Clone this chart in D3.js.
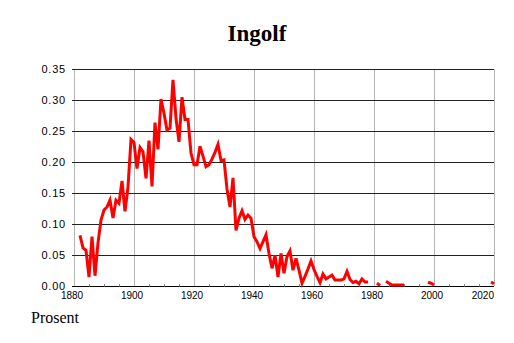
<!DOCTYPE html>
<html>
<head>
<meta charset="utf-8">
<script src="https://cdn.jsdelivr.net/npm/d3@7.9.0/dist/d3.min.js"></script>
<style>
  body { margin: 0; background: #fff; }
  svg { display: block; }
</style>
</head>
<body>
<div id="chart"></div>
<script>
// share of people named Ingolf per year, null = no value that year
const firstYear = 1882;
const lastYear = 2020;
const values = [
  0.082, 0.062, 0.058, 0.015, 0.080, 0.017, 0.070, 0.107, 0.123, 0.128, // 1882-1891
  0.139, 0.110, 0.139, 0.134, 0.170, 0.121, 0.160, 0.237, 0.232, 0.190, // 1892-1901
  0.224, 0.217, 0.174, 0.235, 0.161, 0.264, 0.221, 0.302, 0.279, 0.252, // 1902-1911
  0.255, 0.333, 0.271, 0.233, 0.305, 0.269, 0.269, 0.215, 0.196, 0.196, // 1912-1921
  0.226, 0.210, 0.193, 0.196, 0.205, 0.216, 0.229, 0.203, 0.204, 0.157, // 1922-1931
  0.128, 0.175, 0.090, 0.110, 0.122, 0.108, 0.115, 0.110, 0.080, 0.072, // 1932-1941
  0.061, 0.072, 0.083, 0.053, 0.029, 0.050, 0.015, 0.053, 0.021, 0.048, // 1942-1951
  0.057, 0.026, 0.045, 0.026, 0.005, 0.016, 0.028, 0.041, 0.027, 0.016, // 1952-1961
  0.006, 0.020, 0.012, 0.015, 0.018, 0.010, 0.010, 0.010, 0.012, 0.024, // 1962-1971
  0.011, 0.006, 0.008, 0.004, 0.012, 0.007, 0.007, null, null, 0.005,   // 1972-1981
  0.001, null, 0.008, 0.005, 0.002, 0.002, 0.002, 0.002, 0.002, null,   // 1982-1991
  null, null, null, null, null, null, 0.0065, 0.005, 0.002, null,       // 1992-2001
  null, null, null, null, null, null, null, null, null, null,           // 2002-2011
  null, null, null, null, null, null, null, 0.007, 0.004                // 2012-2020
];
const years = d3.range(firstYear, lastYear + 1);
const data = years.map((year, i) => ({ year, value: values[i] }));

const xTicks = [1880, 1900, 1920, 1940, 1960, 1980, 2000, 2020];
const yTicks = [0, 0.05, 0.10, 0.15, 0.20, 0.25, 0.30, 0.35];

const width = 514;
const height = 343;

const svg = d3.select('#chart')
  .append('svg')
  .attr('width', width)
  .attr('height', height);

const xScale = d3.scaleLinear().domain([1880, 2020]).range([74, 494]);
const yScale = d3.scaleLinear().domain([0, 0.35]).range([286.3, 69.3]);

const left = 72;
const right = 494;

// vertical gridlines (grey)
svg.append('g')
  .selectAll('line')
  .data(xTicks)
  .join('line')
  .attr('x1', (d) => Math.round(xScale(d)) + 0.5)
  .attr('x2', (d) => Math.round(xScale(d)) + 0.5)
  .attr('y1', yScale(0.35))
  .attr('y2', yScale(0))
  .attr('stroke', '#b4b4b4')
  .attr('stroke-width', 1);

// horizontal gridlines (black)
svg.append('g')
  .selectAll('line')
  .data(yTicks)
  .join('line')
  .attr('x1', left)
  .attr('x2', right)
  .attr('y1', (d) => Math.round(yScale(d)) + 0.5)
  .attr('y2', (d) => Math.round(yScale(d)) + 0.5)
  .attr('stroke', (d) => (d === 0 ? '#000' : '#222'))
  .attr('stroke-width', 1);

// minor ticks every 5 years
const minor = d3.range(1885, 2020, 5).filter((d) => d % 20 !== 0);
svg.append('g')
  .selectAll('line')
  .data(minor)
  .join('line')
  .attr('x1', (d) => Math.round(xScale(d)) + 0.5)
  .attr('x2', (d) => Math.round(xScale(d)) + 0.5)
  .attr('y1', Math.round(yScale(0)) - 2)
  .attr('y2', Math.round(yScale(0)) + 0.5)
  .attr('stroke', '#888');

// y labels
svg.append('g')
  .selectAll('text')
  .data(yTicks)
  .join('text')
  .attr('x', 66)
  .attr('y', (d) => yScale(d) + 4)
  .attr('text-anchor', 'end')
  .style('font-family', '"Liberation Sans", Arial, sans-serif')
  .style('font-size', '11px')
  .style('letter-spacing', '0.8px')
  .attr('fill', '#000')
  .text((d) => d3.format('.2f')(d));

// x labels
svg.append('g')
  .selectAll('text')
  .data(xTicks)
  .join('text')
  .attr('x', (d) => (d === 2020 ? 494 : xScale(d) - 2))
  .attr('y', 298.5)
  .attr('text-anchor', (d) => (d === 2020 ? 'end' : 'middle'))
  .style('font-family', '"Liberation Sans", Arial, sans-serif')
  .style('font-size', '10px')
  .attr('fill', '#000')
  .text((d) => d);

// the series
const line = d3.line()
  .defined((d) => d.value !== null)
  .x((d) => xScale(d.year))
  .y((d) => yScale(d.value));

svg.append('path')
  .datum(data)
  .attr('d', line)
  .attr('fill', 'none')
  .attr('stroke', '#ff0000')
  .attr('stroke-width', 3);

// title and unit
svg.append('text')
  .attr('x', 257)
  .attr('y', 40.5)
  .attr('text-anchor', 'middle')
  .style('font-family', '"Liberation Serif", "Times New Roman", serif')
  .style('font-size', '23px')
  .style('font-weight', 'bold')
  .text('Ingolf');

svg.append('text')
  .attr('x', 31)
  .attr('y', 322.5)
  .style('font-family', '"Liberation Serif", "Times New Roman", serif')
  .style('font-size', '16px')
  .text('Prosent');
</script>
</body>
</html>
